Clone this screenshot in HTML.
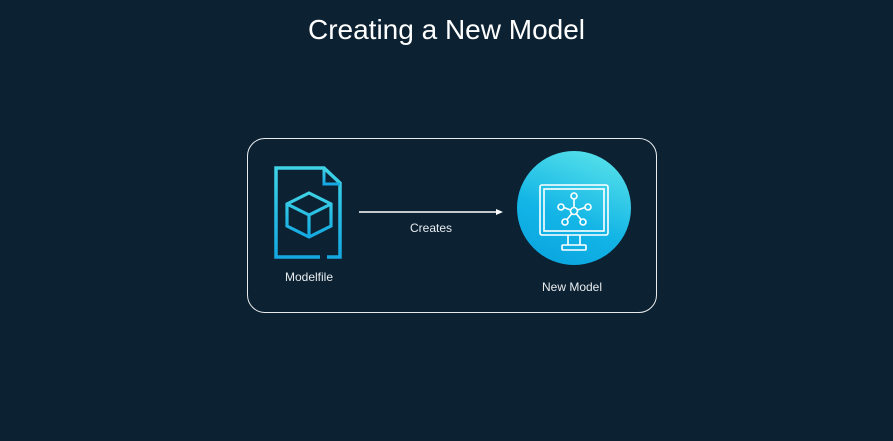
<!DOCTYPE html>
<html><head><style>
html,body{margin:0;padding:0;background:#0c2233;}
body{width:893px;height:441px;position:relative;overflow:hidden;font-family:"Liberation Sans",sans-serif;color:#fff;}
.t{position:absolute;left:0;width:893px;top:14px;text-align:center;font-size:28px;}
.box{position:absolute;left:247px;top:138px;width:408px;height:173px;border:1.5px solid #e8ecef;border-radius:18px;}
.l{position:absolute;font-size:12px;color:#e8ecef;}
</style></head><body>
<div class="t">Creating a New Model</div>
<div class="box"></div>
<svg width="893" height="441" style="position:absolute;left:0;top:0">
<defs><linearGradient id="g" x1="0.7" y1="0" x2="0.3" y2="1"><stop offset="0" stop-color="#55e0ea"/><stop offset="0.6" stop-color="#13b5e6"/><stop offset="1" stop-color="#0aa6e0"/></linearGradient>
<linearGradient id="f" x1="0" y1="0" x2="0" y2="1"><stop offset="0" stop-color="#3fd3e6"/><stop offset="1" stop-color="#14a9e2"/></linearGradient></defs>
<g fill="none" stroke="url(#f)" stroke-width="3.5">
<path d="M327,257 H340 V183 L324,168 H276 V257 H320"/>
<path d="M324,168 V184 H340" stroke-width="3"/>
<path d="M309,193 L331,204 V226 L309,237 L287,226 V204 Z M287,204 L309,215 L331,204 M309,215 V237" stroke-width="3.2"/>
</g>
<line x1="359" y1="212" x2="498" y2="212" stroke="#fff" stroke-width="1.5"/>
<polygon points="503,212 496,209 496,215" fill="#fff"/>
<circle cx="574" cy="208" r="57" fill="url(#g)"/>
<g fill="none" stroke="#fff" stroke-width="1.6">
<rect x="540" y="185" width="68" height="50" rx="2"/>
<rect x="544" y="189" width="60" height="42"/>
<path d="M568,235 V245 M580,235 V245"/>
<rect x="562" y="245" width="24" height="5" rx="1"/>
<circle cx="574" cy="211" r="3.5"/>
<circle cx="574" cy="196" r="3"/><circle cx="561" cy="207" r="3"/><circle cx="588" cy="207" r="3"/>
<circle cx="565" cy="222" r="3"/><circle cx="583" cy="222" r="3"/>
<path d="M574,199 V207.5 M564,207.5 L570.5,210 M585,207.5 L577.5,210 M567,219.5 L571.5,214 M581,219.5 L576.5,214"/>
</g>
</svg>
<div class="l" style="left:410px;top:221px">Creates</div>
<div class="l" style="left:285px;top:270px">Modelfile</div>
<div class="l" style="left:542px;top:280px">New Model</div>
</body></html>
